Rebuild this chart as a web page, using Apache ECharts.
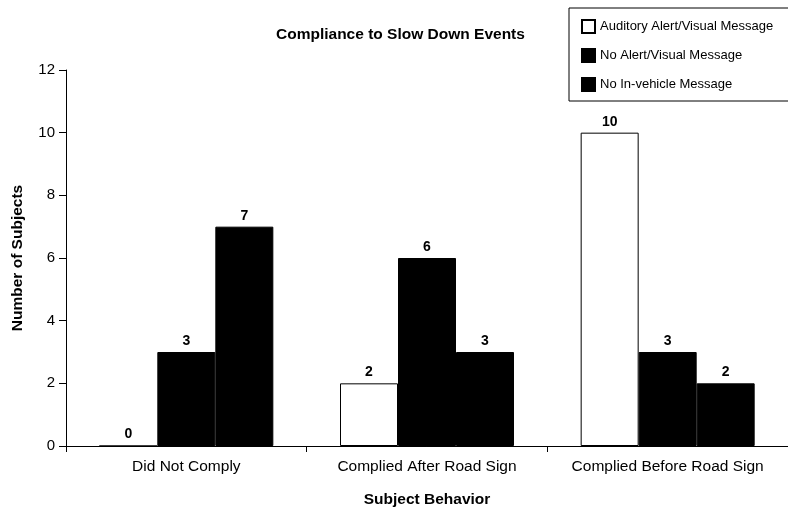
<!DOCTYPE html>
<html>
<head>
<meta charset="utf-8">
<script src="https://cdn.jsdelivr.net/npm/echarts@6/dist/echarts.min.js"></script>
<style>html,body{margin:0;padding:0;background:#fff}#c{width:788px;height:510px}</style>
</head>
<body>
<div id="c"></div>
<script>
const categories = ['Did Not Comply', 'Complied After Road Sign', 'Complied Before Road Sign'];
const seriesNames = ['Auditory Alert/Visual Message', 'No Alert/Visual Message', 'No In-vehicle Message'];
const auditoryAlert = [0, 2, 10];
const noAlert = [3, 6, 3];
const noInVehicle = [7, 3, 2];
const yTicks = [0, 2, 4, 6, 8, 10, 12];

const font = 'Liberation Sans, Arial, Helvetica, sans-serif';
const chart = echarts.init(document.getElementById('c'), null, {renderer: 'canvas'});
const lbl = {show: true, position: 'top', distance: 4, color: '#000', fontWeight: 'bold', fontSize: 14, fontFamily: font};
function mk(name, data, fill) {
  return {
    name: name, type: 'bar', data: data, barWidth: 58, barGap: '0%',
    itemStyle: {color: fill, borderColor: '#000', borderWidth: 1},
    label: lbl, emphasis: {disabled: true}
  };
}
chart.setOption({
  animation: false,
  backgroundColor: '#fff',
  title: {
    text: 'Compliance to Slow Down Events', left: 276, top: 27, padding: 0,
    textStyle: {fontSize: 15.5, fontWeight: 'bold', color: '#000', fontFamily: font}
  },
  legend: {
    orient: 'vertical', left: 569, top: 8,
    padding: [11, 40, 9, 12], itemGap: 14, itemWidth: 13, itemHeight: 13,
    borderColor: '#000', borderWidth: 1, backgroundColor: '#fff',
    icon: 'rect',
    textStyle: {fontSize: 13, color: '#000', fontFamily: font},
    data: seriesNames
  },
  grid: {left: 66, right: 0, top: 70, bottom: 64, containLabel: false, outerBoundsMode: 'none'},
  xAxis: {
    type: 'category', data: categories,
    name: 'Subject Behavior', nameLocation: 'middle', nameGap: 46,
    nameTextStyle: {fontSize: 15.5, fontWeight: 'bold', color: '#000', fontFamily: font},
    axisLine: {lineStyle: {color: '#000', width: 1}},
    axisTick: {show: true, interval: 0, length: 6, lineStyle: {color: '#000'}},
    axisLabel: {interval: 0, hideOverlap: false, fontSize: 15.5, color: '#000', margin: 13, fontFamily: font}
  },
  yAxis: {
    type: 'value', min: 0, max: 12, interval: 2,
    name: 'Number of Subjects', nameLocation: 'middle', nameGap: 40,
    nameTextStyle: {fontSize: 15.5, fontWeight: 'bold', color: '#000', fontFamily: font},
    axisLine: {show: true, lineStyle: {color: '#000', width: 1}},
    axisTick: {show: true, length: 7, lineStyle: {color: '#000'}},
    axisLabel: {fontSize: 15, color: '#000', margin: 11, fontFamily: font,
      formatter: v => yTicks.includes(v) ? String(v) : ''},
    splitLine: {show: false}
  },
  series: [
    mk(seriesNames[0], auditoryAlert, '#fff'),
    mk(seriesNames[1], noAlert, '#000'),
    mk(seriesNames[2], noInVehicle, '#000')
  ]
});
</script>
</body>
</html>
